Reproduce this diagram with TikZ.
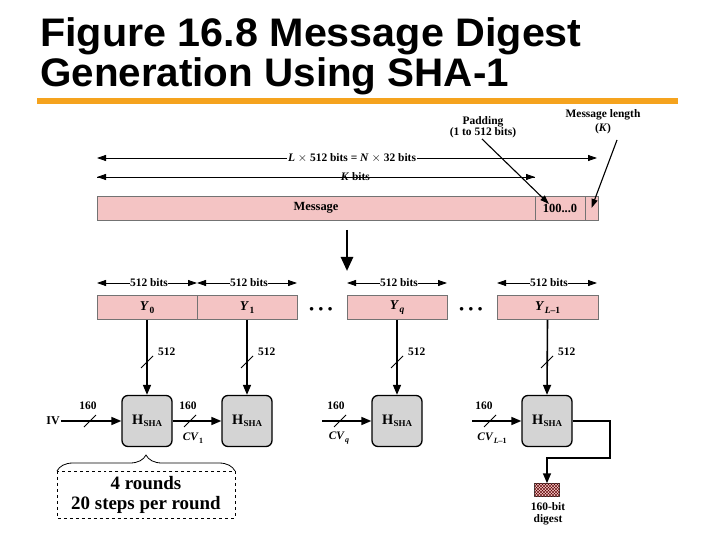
\documentclass[tikz,border=0pt]{standalone}
\usepackage{fontspec}
\setmainfont{Liberation Serif}
\newfontfamily\titlefont{Liberation Sans}
\usetikzlibrary{arrows.meta,decorations.pathreplacing,patterns}
\definecolor{pinkc}{RGB}{244,196,196}
\definecolor{boxgray}{RGB}{212,212,212}
\definecolor{orangec}{RGB}{245,163,30}
\newcommand\Ysub[1]{{\fontsize{13.5}{14}\selectfont\textit{Y}}\kern0.5bp\raisebox{-3bp}{\fontsize{9.5}{10}\selectfont #1}}
\newcommand\Hsha{H\kern0.3bp\raisebox{-2.5bp}{\fontsize{9}{9}\selectfont SHA}}
\newcommand\CVsub[1]{\textit{CV}\kern0.3bp\raisebox{-2.5bp}{\fontsize{8}{9}\selectfont #1}}
\begin{document}
\begin{tikzpicture}[x=1bp,y=-1bp,
  lbl/.style={font=\fontsize{11.5}{13}\selectfont\bfseries, inner sep=1bp},
  seg/.style={draw=black!55, line width=0.6bp, fill=pinkc, minimum height=24bp, inner sep=0, font=\fontsize{12.5}{13}\selectfont\bfseries},
  hbox/.style={draw, line width=1.3bp, rounded corners=6bp, fill=boxgray, minimum width=50bp, minimum height=51bp, inner sep=0, font=\fontsize{14.5}{15}\selectfont\bfseries},
  arr/.style={line width=1.6bp, -{Triangle[length=10bp,width=8bp]}},
  thinarr/.style={line width=1.1bp, -{Triangle[length=9bp,width=6bp]}},
  dim/.style={line width=0.8bp, {Triangle[length=9bp,width=6bp]}-{Triangle[length=9bp,width=6bp]}},
  dimr/.style={line width=0.8bp, -{Triangle[length=9bp,width=6bp]}},
  slash/.style={line width=1bp},
  dots/.style={font=\fontsize{9}{9}\selectfont, inner sep=0},
  ttl/.style={anchor=base west, inner sep=0, font=\titlefont\bfseries\fontsize{40}{40}\selectfont},
]
\useasboundingbox (0,0) rectangle (720,540);
\fill[white] (0,0) rectangle (720,540);

% title
\node[ttl] (title1) at (40,47) {\scalebox{1.036}[1]{Figure 16.8 Message Digest}};
\node[ttl] (title2) at (40,87) {\scalebox{1.013}[1]{Generation Using SHA-1}};
\fill[orangec] (37,98.5) rectangle (678,104);

% top dimension lines
\coordinate (t1) at (97,158);
\coordinate (t2) at (597,158);
\draw[dim] (t1) -- node[lbl, fill=white, pos=0.51] (ltext) {\textit{L} $\times$ 512 bits = \textit{N} $\times$ 32 bits} (t2);
\coordinate (k1) at (97,177);
\coordinate (k2) at (535,177);
\draw[dimr] (k2) -- node[lbl, fill=white, pos=0.41] (ktext) {\textit{K} bits} (k1);
\draw[dimr] (k1) -- (k2);

% message bar
\node[seg, minimum width=438bp] (msg) at (316,208) {Message};
\node[seg, minimum width=50bp] (pad) at (560,208) {100...0};
\node[seg, minimum width=13bp] (len) at (591.5,208) {};

% padding / length labels
\node[lbl, align=center, font=\fontsize{11.5}{11.5}\selectfont\bfseries] (padlbl) at (483,127) {Padding\\(1 to 512 bits)};
\node[lbl, align=center, font=\fontsize{11.5}{14}\selectfont\bfseries] (lenlbl) at (603,122) {Message length\\(\textit{K})};
\coordinate (pads) at (482,139);
\coordinate (padtip) at (549,204);
\coordinate (lens) at (617,140);
\draw[thinarr] (pads) -- (padtip);
\draw[thinarr] (lens) -- (len.center);

% big arrow
\coordinate (ba1) at (347,230);
\coordinate (ba2) at (347,271);
\draw[line width=2.6bp, -{Triangle[length=14bp,width=12bp]}] (ba1) -- (ba2);

% blocks
\node[seg, minimum width=100bp] (y0) at (147,307.5) {\Ysub{0}};
\node[seg, minimum width=100bp] (y1) at (247,307.5) {\Ysub{1}};
\node[seg, minimum width=100bp] (yq) at (397,307.5) {\Ysub{\textit{q}}};
\node[seg, minimum width=101bp] (yl) at (547.5,307.5) {\Ysub{\textit{L}--1}};
\node[dots] (d1) at (321,309) {$\bullet\;\bullet\;\bullet$};
\node[dots] (d2) at (471,309) {$\bullet\;\bullet\;\bullet$};

% 512 bits dimension arrows
\foreach \a/\b/\n in {97/197/a, 197/297/b, 347/447/c, 497/597/d}{
  \coordinate (s\n1) at (\a,283);
  \coordinate (s\n2) at (\b,283);
  \draw[dim] (s\n1) -- node[lbl, fill=white, inner xsep=0.5bp, pos=0.52] (sl\n) {512 bits} (s\n2);
}

% H boxes
\node[hbox] (h1) at (147,421) {\Hsha};
\node[hbox] (h2) at (247,421) {\Hsha};
\node[hbox] (h3) at (397,421) {\Hsha};
\node[hbox] (h4) at (547,421) {\Hsha};

% vertical connectors
\foreach \y/\h/\x in {y0/h1/147, y1/h2/247, yq/h3/397, yl/h4/547}{
  \draw[arr] (\y.south) -- (\h.north);
  \draw[slash] (\x-6,368) -- (\x+6,356);
  \node[lbl, anchor=west] at (\x+10,352) {512};
}

% horizontal chaining
\node[lbl, font=\fontsize{12}{13}\selectfont\bfseries] (iv) at (53,421) {IV};
\coordinate (c3) at (322,421);
\coordinate (c4) at (472,421);
\draw[arr] (iv) -- (h1);
\draw[arr] (h1) -- (h2);
\draw[arr] (c3) -- (h3);
\draw[arr] (c4) -- (h4);
\foreach \x/\lx in {90/88, 190/188, 340/336, 490/484}{
  \draw[slash] (\x-6,427) -- (\x+6,415);
  \node[lbl] at (\lx,406) {160};
}
\node[lbl] (cv1) at (193,438) {\CVsub{1}};
\node[lbl] (cvq) at (339,438) {\CVsub{\textit{q}}};
\node[lbl] (cvl) at (492,438) {\CVsub{\textit{L}--1}};

% output to digest
\node[draw=black!70, line width=0.5bp, minimum width=25bp, minimum height=13bp, inner sep=0, fill=pinkc,
      postaction={pattern=crosshatch, pattern color=red!35!black}] (dig) at (547,490) {};
\coordinate (o1) at (610,421);
\coordinate (o2) at (610,458);
\coordinate (o3) at (547,458);
\draw[arr] (h4.east) -- (o1) -- (o2) -- (o3) -- (dig.north);
\node[lbl, align=center, font=\fontsize{11.5}{12}\selectfont\bfseries] (diglbl) at (548,514) {160-bit\\digest};

% brace and dashed box
\draw[line width=0.8bp, decorate, decoration={brace, amplitude=16bp}] (57,471) -- (235,471);
\draw[dashed, line width=0.8bp] (57,471) rectangle (235,518);
\node[align=center, inner sep=0, font=\fontsize{19}{20}\selectfont\bfseries] (rounds) at (146,495) {4 rounds\\20 steps per round};
\end{tikzpicture}
\end{document}
